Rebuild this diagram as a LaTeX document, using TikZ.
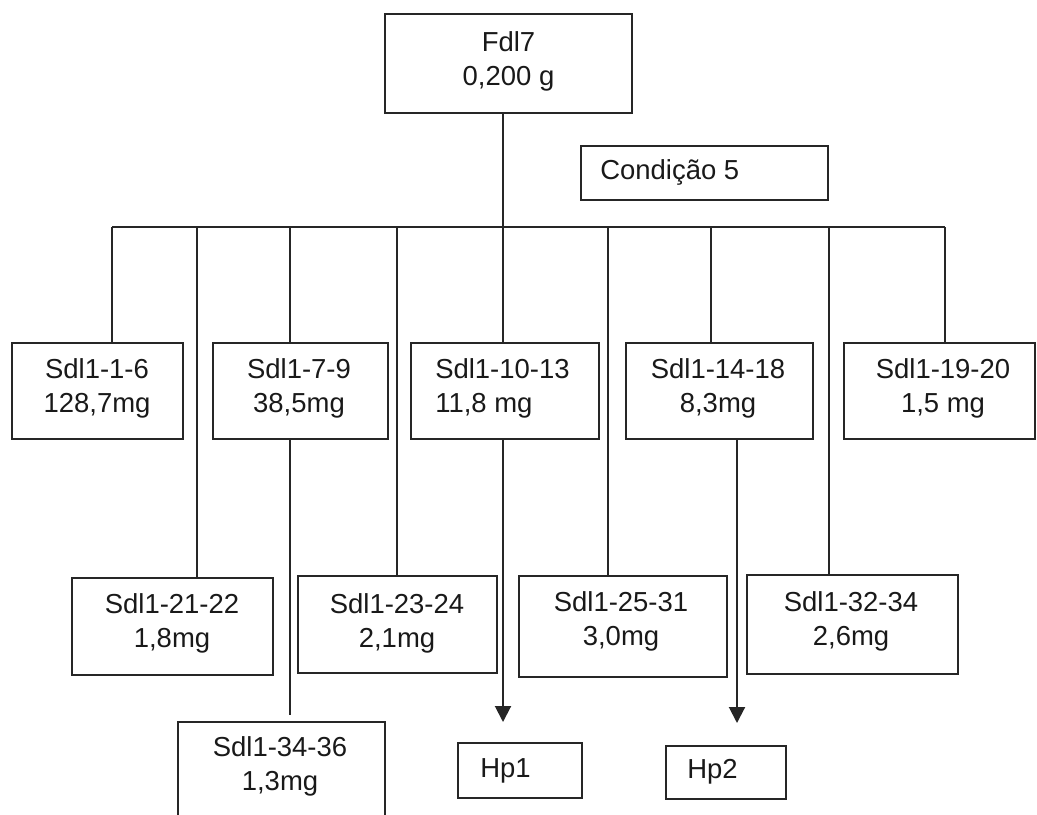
\documentclass[tikz,border=0pt]{standalone}
\usepackage{fontspec}
\setmainfont{Liberation Sans}
\usetikzlibrary{arrows.meta}
\begin{document}
\begin{tikzpicture}[x=0.75pt,y=-0.75pt,
  box/.style={draw=black!85, line width=1.5pt, inner sep=0pt},
  lbl/.style={font=\fontsize{20.6}{25.5}\selectfont, align=center, inner sep=0pt, text=black!90},
  lbll/.style={lbl, align=left, anchor=west},
  conn/.style={draw=black!85, line width=1.5pt},
  arr/.style={conn, -{Triangle[length=12pt,width=12pt]}}
]
\clip (0,0) rectangle (1037,814);
\useasboundingbox (0,0) rectangle (1037,814);
% boxes
\node[box, minimum width=247*0.75pt, minimum height=99*0.75pt] (fdl) at (508.5,63.5) {};
\node[box, minimum width=247*0.75pt, minimum height=54*0.75pt] (cond) at (704.5,173) {};
\node[box, minimum width=171*0.75pt, minimum height=96*0.75pt] (b1) at (97.5,391) {};
\node[box, minimum width=175*0.75pt, minimum height=96*0.75pt] (b2) at (300.5,391) {};
\node[box, minimum width=188*0.75pt, minimum height=96*0.75pt] (b3) at (505,391) {};
\node[box, minimum width=187*0.75pt, minimum height=96*0.75pt] (b4) at (719.5,391) {};
\node[box, minimum width=191*0.75pt, minimum height=96*0.75pt] (b5) at (939.5,391) {};
\node[box, minimum width=201*0.75pt, minimum height=97*0.75pt] (c1) at (172.5,626.5) {};
\node[box, minimum width=199*0.75pt, minimum height=97*0.75pt] (c2) at (397.5,624.5) {};
\node[box, minimum width=208*0.75pt, minimum height=101*0.75pt] (c3) at (623,626.5) {};
\node[box, minimum width=211*0.75pt, minimum height=99*0.75pt] (c4) at (852.5,624.5) {};
\node[box, minimum width=207*0.75pt, minimum height=108*0.75pt] (d1) at (281.5,776) {};
\node[box, minimum width=124*0.75pt, minimum height=55*0.75pt] (hp1) at (520,770.5) {};
\node[box, minimum width=120*0.75pt, minimum height=53*0.75pt] (hp2) at (726,772.5) {};
% texts
\node[lbl] (tfdl) at (508.5,61) {Fdl7\\0,200 g};
\node[lbl, anchor=base west] (tcond) at (600,179) {Condição 5};
\node[lbl] (tb1) at (97,388) {Sdl1-1-6\\128,7mg};
\node[lbl] (tb2) at (299,388) {Sdl1-7-9\\38,5mg};
\node[lbll] (tb3) at (435,388) {Sdl1-10-13\\11,8 mg};
\node[lbl] (tb4) at (718,388) {Sdl1-14-18\\8,3mg};
\node[lbl] (tb5) at (943,388) {Sdl1-19-20\\1,5 mg};
\node[lbl] (tc1) at (172,623) {Sdl1-21-22\\1,8mg};
\node[lbl] (tc2) at (397,623) {Sdl1-23-24\\2,1mg};
\node[lbl] (tc3) at (621,621) {Sdl1-25-31\\3,0mg};
\node[lbl] (tc4) at (851,621) {Sdl1-32-34\\2,6mg};
\node[lbl] (td1) at (280,766) {Sdl1-34-36\\1,3mg};
\node[lbl, anchor=base west] (thp1) at (480,777) {Hp1};
\node[lbl, anchor=base west] (thp2) at (687,778) {Hp2};
% bus
\coordinate (bus0) at (503,227);
\coordinate (busL) at (112,227);
\coordinate (busR) at (945,227);
\draw[conn] (fdl.south -| bus0) -- (bus0);
\draw[conn] (busL) -- (busR);
\coordinate (t1) at (112,227);
\coordinate (t2) at (197,227);
\coordinate (t3) at (290,227);
\coordinate (t4) at (397,227);
\coordinate (t5) at (503,227);
\coordinate (t6) at (608,227);
\coordinate (t7) at (711,227);
\coordinate (t8) at (829,227);
\coordinate (t9) at (945,227);
\draw[conn] (t1) -- (t1 |- b1.north);
\draw[conn] (t2) -- (t2 |- c1.north);
\draw[conn] (t3) -- (t3 |- b2.north);
\draw[conn] (t4) -- (t4 |- c2.north);
\draw[conn] (t5) -- (t5 |- b3.north);
\draw[conn] (t6) -- (t6 |- c3.north);
\draw[conn] (t7) -- (t7 |- b4.north);
\draw[conn] (t8) -- (t8 |- c4.north);
\draw[conn] (t9) -- (t9 |- b5.north);
% lower links
\coordinate (e1) at (290,715);
\draw[conn] (b2.south -| e1) -- (e1);
\coordinate (a1) at (503,722);
\draw[arr] (b3.south -| a1) -- (a1);
\coordinate (a2) at (737,723);
\draw[arr] (b4.south -| a2) -- (a2);
\end{tikzpicture}
\end{document}
